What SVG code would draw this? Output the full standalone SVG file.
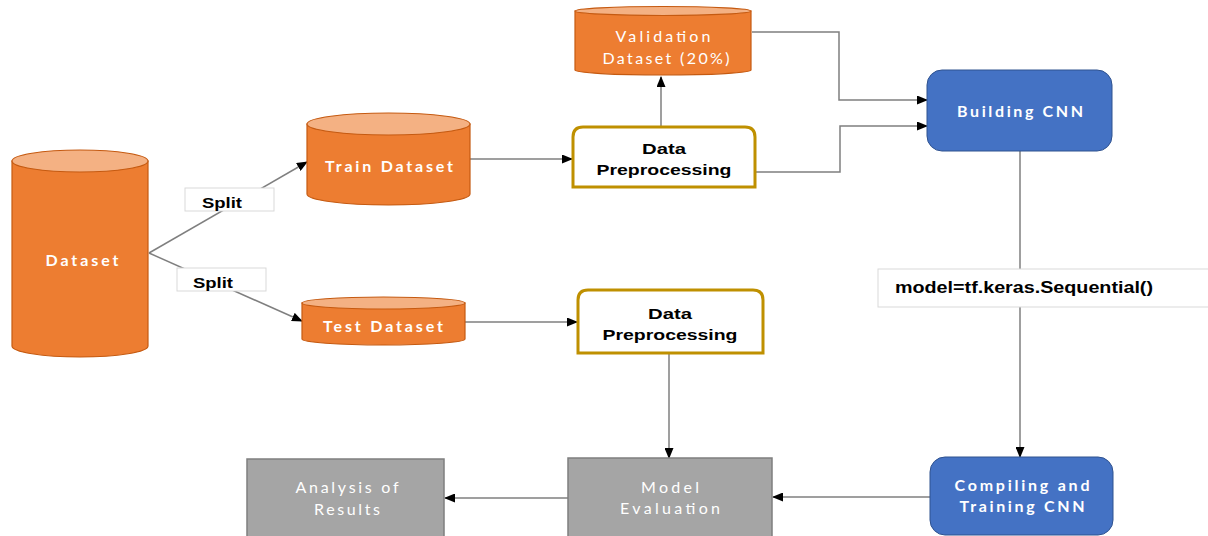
<svg xmlns="http://www.w3.org/2000/svg" width="1208" height="536" viewBox="0 0 1208 536">
<defs>
<marker id="arr" markerWidth="11" markerHeight="9" refX="10" refY="4.5" orient="auto" markerUnits="userSpaceOnUse">
<path d="M0,0 L11,4.5 L0,9 Z" fill="#000"/>
</marker>
<style>
.conn{fill:none;stroke:#7f7f7f;stroke-width:1.5}
.cylBody{fill:#ED7D31;stroke:#C55A11;stroke-width:1.2}
.cylTop{fill:#F4B183;stroke:#C55A11;stroke-width:1.2}
.dp{fill:#fff;stroke:#BF9000;stroke-width:3}
.blue{fill:#4472C4;stroke:#2F528F;stroke-width:1}
.gray{fill:#A5A5A5;stroke:#7F7F7F;stroke-width:1.5}
.lbl{fill:#fff;stroke:#D9D9D9;stroke-width:1}
.wt{font-family:Lato,"Open Sans",sans-serif;font-weight:bold;font-size:16px;fill:#fff;text-anchor:middle}
.wn{font-family:Lato,"Open Sans",sans-serif;font-weight:normal;font-size:16px;fill:#fff;text-anchor:middle}
.bt{font-family:"Liberation Sans",Arial,sans-serif;font-weight:bold;font-size:15px;fill:#000;text-anchor:middle}
.bs{font-family:"Liberation Sans",Arial,sans-serif;font-weight:bold;font-size:16px;fill:#000;text-anchor:start}
</style>
</defs>
<rect width="1208" height="536" fill="#fff"/>
<g id="connectors">
<line class="conn" x1="149" y1="253" x2="307" y2="162" marker-end="url(#arr)"/>
<line class="conn" x1="149" y1="253" x2="302" y2="321" marker-end="url(#arr)"/>
<line class="conn" x1="470" y1="159" x2="572" y2="159" marker-end="url(#arr)"/>
<line class="conn" x1="661" y1="127" x2="661" y2="77" marker-end="url(#arr)"/>
<polyline class="conn" points="752,32 839,32 839,100 927,100" marker-end="url(#arr)"/>
<polyline class="conn" points="755,172 840,172 840,126 927,126" marker-end="url(#arr)"/>
<line class="conn" x1="465" y1="322" x2="577" y2="322" marker-end="url(#arr)"/>
<line class="conn" x1="669" y1="353" x2="669" y2="458" marker-end="url(#arr)"/>
<line class="conn" x1="1020" y1="151" x2="1020" y2="269"/>
<line class="conn" x1="1020" y1="307" x2="1020" y2="457" marker-end="url(#arr)"/>
<line class="conn" x1="930" y1="497" x2="773" y2="497" marker-end="url(#arr)"/>
<line class="conn" x1="568" y1="498" x2="445" y2="498" marker-end="url(#arr)"/>
</g>
<g id="dataset">
<path class="cylBody" d="M12,161 L12,346 A68,11 0 0 0 148,346 L148,161 Z"/>
<ellipse class="cylTop" cx="80" cy="161" rx="68" ry="11"/>
<text class="wt" x="82" y="266" textLength="73" lengthAdjust="spacing">Dataset</text>
</g>
<g id="split1">
<rect class="lbl" x="185" y="188" width="89" height="23"/>
<text class="bt" x="222" y="208" font-size="16" textLength="40" lengthAdjust="spacingAndGlyphs">Split</text>
</g>
<g id="split2">
<rect class="lbl" x="177" y="268" width="89" height="23"/>
<text class="bt" x="213" y="288" font-size="16" textLength="40" lengthAdjust="spacingAndGlyphs">Split</text>
</g>
<g id="train">
<path class="cylBody" d="M307,124 L307,194 A81.5,11 0 0 0 470,194 L470,124 Z"/>
<ellipse class="cylTop" cx="388.5" cy="124" rx="81.5" ry="11"/>
<text class="wt" x="389" y="172" textLength="128" lengthAdjust="spacing">Train Dataset</text>
</g>
<g id="test">
<path class="cylBody" d="M302,303 L302,339 A81.5,6 0 0 0 465,339 L465,303 Z"/>
<ellipse class="cylTop" cx="383.5" cy="303" rx="81.5" ry="6"/>
<text class="wt" x="383" y="332" textLength="120" lengthAdjust="spacing">Test Dataset</text>
</g>
<g id="validation">
<path class="cylBody" d="M575,11 L575,70 A88,5 0 0 0 751,70 L751,11 Z"/>
<ellipse class="cylTop" cx="663" cy="11" rx="88" ry="4.5"/>
<text class="wn" x="663" y="42" textLength="95" lengthAdjust="spacing">Validation</text>
<text class="wn" x="666" y="64" textLength="127" lengthAdjust="spacing">Dataset (20%)</text>
</g>
<g id="dp1">
<path class="dp" d="M573,187 L573,137 Q573,127 583,127 L745,127 Q755,127 755,137 L755,187 Z"/>
<text class="bt" x="664" y="154" textLength="44" lengthAdjust="spacingAndGlyphs">Data</text>
<text class="bt" x="664" y="175" textLength="135" lengthAdjust="spacingAndGlyphs">Preprocessing</text>
</g>
<g id="dp2">
<path class="dp" d="M578,353 L578,300 Q578,290 588,290 L753,290 Q763,290 763,300 L763,353 Z"/>
<text class="bt" x="670" y="319" textLength="44" lengthAdjust="spacingAndGlyphs">Data</text>
<text class="bt" x="670" y="340" textLength="135" lengthAdjust="spacingAndGlyphs">Preprocessing</text>
</g>
<g id="building">
<rect class="blue" x="927" y="70" width="185" height="81" rx="15"/>
<text class="wt" x="1020" y="117" textLength="126" lengthAdjust="spacing">Building CNN</text>
</g>
<g id="model">
<rect class="lbl" x="878" y="269" width="340" height="38"/>
<text class="bs" x="895" y="293" textLength="258" lengthAdjust="spacingAndGlyphs">model=tf.keras.Sequential()</text>
</g>
<g id="compiling">
<rect class="blue" x="930" y="457" width="183" height="78" rx="15"/>
<text class="wt" x="1022" y="491" textLength="135" lengthAdjust="spacing">Compiling and</text>
<text class="wt" x="1022" y="512" textLength="125" lengthAdjust="spacing">Training CNN</text>
</g>
<g id="evaluation">
<rect class="gray" x="568" y="458" width="204" height="80"/>
<text class="wn" x="670" y="493" textLength="58" lengthAdjust="spacing">Model</text>
<text class="wn" x="670" y="514" textLength="100" lengthAdjust="spacing">Evaluation</text>
</g>
<g id="analysis">
<rect class="gray" x="247" y="459" width="197" height="80"/>
<text class="wn" x="347" y="493" textLength="103" lengthAdjust="spacing">Analysis of</text>
<text class="wn" x="347" y="515" textLength="66" lengthAdjust="spacing">Results</text>
</g>
</svg>
